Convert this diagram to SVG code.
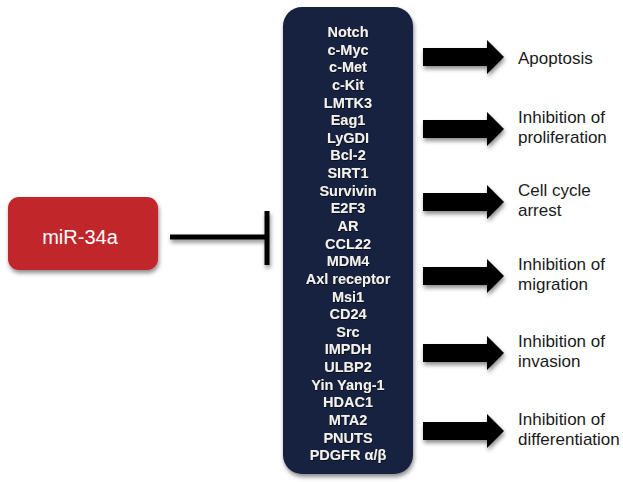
<svg xmlns="http://www.w3.org/2000/svg" width="623" height="482" viewBox="0 0 623 482">
<defs>
<filter id="sh" x="-20%" y="-20%" width="140%" height="140%">
<feDropShadow dx="1" dy="3" stdDeviation="2" flood-color="#000" flood-opacity="0.45"/>
</filter>
<filter id="tsh" x="-10%" y="-20%" width="120%" height="140%">
<feDropShadow dx="0.5" dy="1" stdDeviation="0.5" flood-color="#000" flood-opacity="0.6"/>
</filter>
<path id="arr" d="M0,-9 L64,-9 L64,-17 L81,0 L64,17 L64,9 L0,9 Z"/>
</defs>
<style>
.gene{font-family:"Liberation Sans",Arial,sans-serif;font-weight:bold;font-size:14.5px;fill:#f3f1ea;text-anchor:middle}
.lbl{font-family:"Liberation Sans",Arial,sans-serif;font-size:17px;fill:#1a1a1a}
.mir{font-family:"Liberation Sans",Arial,sans-serif;font-size:20px;fill:#ffffff;text-anchor:middle}
.arrow{fill:#000}
</style>
<rect width="623" height="482" fill="#ffffff"/>
<g id="mir34a">
<rect x="8" y="197" width="150" height="73" rx="11" fill="#c1262c" filter="url(#sh)"/>
<text class="mir" x="80" y="244">miR-34a</text>
</g>
<g id="targets">
<rect x="283" y="7" width="130" height="467" rx="19" fill="#13233f" filter="url(#sh)"/>
<g filter="url(#tsh)">
<text class="gene" x="348" y="37">Notch</text>
<text class="gene" x="348" y="54.6">c-Myc</text>
<text class="gene" x="348" y="72.3">c-Met</text>
<text class="gene" x="348" y="89.9">c-Kit</text>
<text class="gene" x="348" y="107.5">LMTK3</text>
<text class="gene" x="348" y="125.2">Eag1</text>
<text class="gene" x="348" y="142.8">LyGDI</text>
<text class="gene" x="348" y="160.4">Bcl-2</text>
<text class="gene" x="348" y="178">SIRT1</text>
<text class="gene" x="348" y="195.7">Survivin</text>
<text class="gene" x="348" y="213.3">E2F3</text>
<text class="gene" x="348" y="230.9">AR</text>
<text class="gene" x="348" y="248.6">CCL22</text>
<text class="gene" x="348" y="266.2">MDM4</text>
<text class="gene" x="348" y="283.8">Axl receptor</text>
<text class="gene" x="348" y="301.5">Msi1</text>
<text class="gene" x="348" y="319.1">CD24</text>
<text class="gene" x="348" y="336.7">Src</text>
<text class="gene" x="348" y="354.3">IMPDH</text>
<text class="gene" x="348" y="372">ULBP2</text>
<text class="gene" x="348" y="389.6">Yin Yang-1</text>
<text class="gene" x="348" y="407.2">HDAC1</text>
<text class="gene" x="348" y="424.9">MTA2</text>
<text class="gene" x="348" y="442.5">PNUTS</text>
<text class="gene" x="348" y="460.1">PDGFR α/β</text>
</g>
</g>
<g id="connectors">
<g id="inhibition" filter="url(#sh)">
<line x1="170" y1="237" x2="267" y2="237" stroke="#000" stroke-width="5"/>
<line x1="267" y1="211" x2="267" y2="265" stroke="#000" stroke-width="5"/>
</g>
<g class="arrow" filter="url(#sh)">
<use href="#arr" x="423" y="57"/>
<use href="#arr" x="423" y="129"/>
<use href="#arr" x="423" y="202"/>
<use href="#arr" x="423" y="276"/>
<use href="#arr" x="423" y="353"/>
<use href="#arr" x="423" y="431"/>
</g>
</g>
<g id="outcome-apoptosis"><text class="lbl" x="518" y="64">Apoptosis</text></g>
<g id="outcome-proliferation"><text class="lbl" x="518" y="123">Inhibition of</text><text class="lbl" x="518" y="143">proliferation</text></g>
<g id="outcome-cellcycle"><text class="lbl" x="518" y="196">Cell cycle</text><text class="lbl" x="518" y="216">arrest</text></g>
<g id="outcome-migration"><text class="lbl" x="518" y="270">Inhibition of</text><text class="lbl" x="518" y="290">migration</text></g>
<g id="outcome-invasion"><text class="lbl" x="518" y="347">Inhibition of</text><text class="lbl" x="518" y="367">invasion</text></g>
<g id="outcome-differentiation"><text class="lbl" x="518" y="425">Inhibition of</text><text class="lbl" x="518" y="445">differentiation</text></g>
</svg>
